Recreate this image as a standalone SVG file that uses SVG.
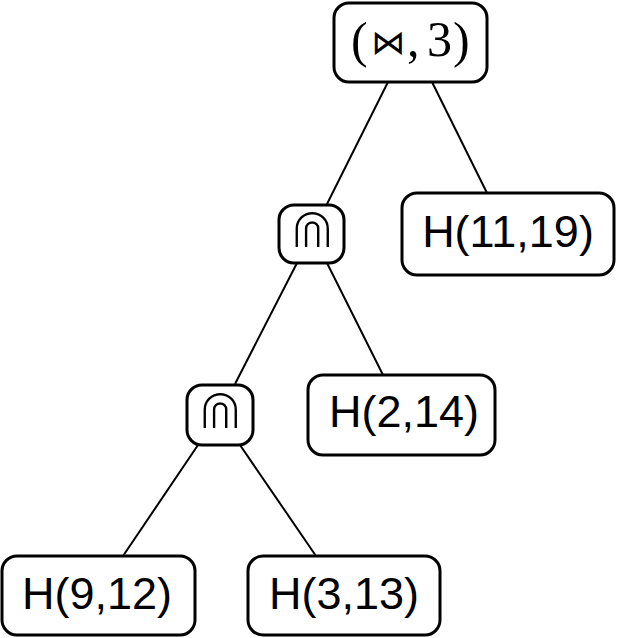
<svg xmlns="http://www.w3.org/2000/svg" width="617" height="638" viewBox="0 0 617 638">
<style>
.box{fill:#fff;stroke:#000;stroke-width:3}
.edge{stroke:#000;stroke-width:2;fill:none}
.lbl{font-family:"Liberation Sans","DejaVu Sans",sans-serif;font-size:45px;fill:#000;text-anchor:middle}
.math{font-family:"Liberation Serif","DejaVu Serif",serif;font-size:50px;fill:#000}
.op{font-family:"DejaVu Sans",sans-serif;font-size:56px;fill:#000;stroke:#fff;stroke-width:2.2;text-anchor:middle}
</style>
<rect width="617" height="638" fill="#fff"/>
<g id="edges">
<line class="edge" x1="388" y1="82" x2="327" y2="204"/>
<line class="edge" x1="432" y1="82" x2="487" y2="193"/>
<line class="edge" x1="297" y1="263" x2="235" y2="384"/>
<line class="edge" x1="327" y1="263" x2="383" y2="375"/>
<line class="edge" x1="198" y1="445" x2="123" y2="556"/>
<line class="edge" x1="240" y1="445" x2="316" y2="556"/>
</g>
<g id="root">
<rect class="box" x="334" y="3" width="153" height="79" rx="15"/>
<text class="math" x="351" y="57">(</text>
<text class="math" x="388" y="54" style="font-family:'DejaVu Serif','DejaVu Sans',serif;font-size:34px;text-anchor:middle">⋈</text>
<text class="math" x="407" y="56">,</text>
<text class="math" x="427" y="56">3</text>
<text class="math" x="453" y="57">)</text>
</g>
<g id="cap1">
<rect class="box" x="279" y="205" width="65" height="58" rx="15"/>
<text class="op" x="312" y="248">⋒</text>
</g>
<g id="h11_19">
<rect class="box" x="402" y="193" width="212" height="82" rx="15"/>
<text class="lbl" x="508" y="247">H(11,19)</text>
</g>
<g id="cap2">
<rect class="box" x="187" y="385" width="66" height="60" rx="15"/>
<text class="op" x="220" y="429">⋒</text>
</g>
<g id="h2_14">
<rect class="box" x="308" y="375" width="187" height="80" rx="15"/>
<text class="lbl" x="404" y="427">H(2,14)</text>
</g>
<g id="h9_12">
<rect class="box" x="2" y="556" width="193" height="79" rx="15"/>
<text class="lbl" x="97" y="609">H(9,12)</text>
</g>
<g id="h3_13">
<rect class="box" x="248" y="556" width="192" height="79" rx="15"/>
<text class="lbl" x="344" y="609">H(3,13)</text>
</g>
</svg>
